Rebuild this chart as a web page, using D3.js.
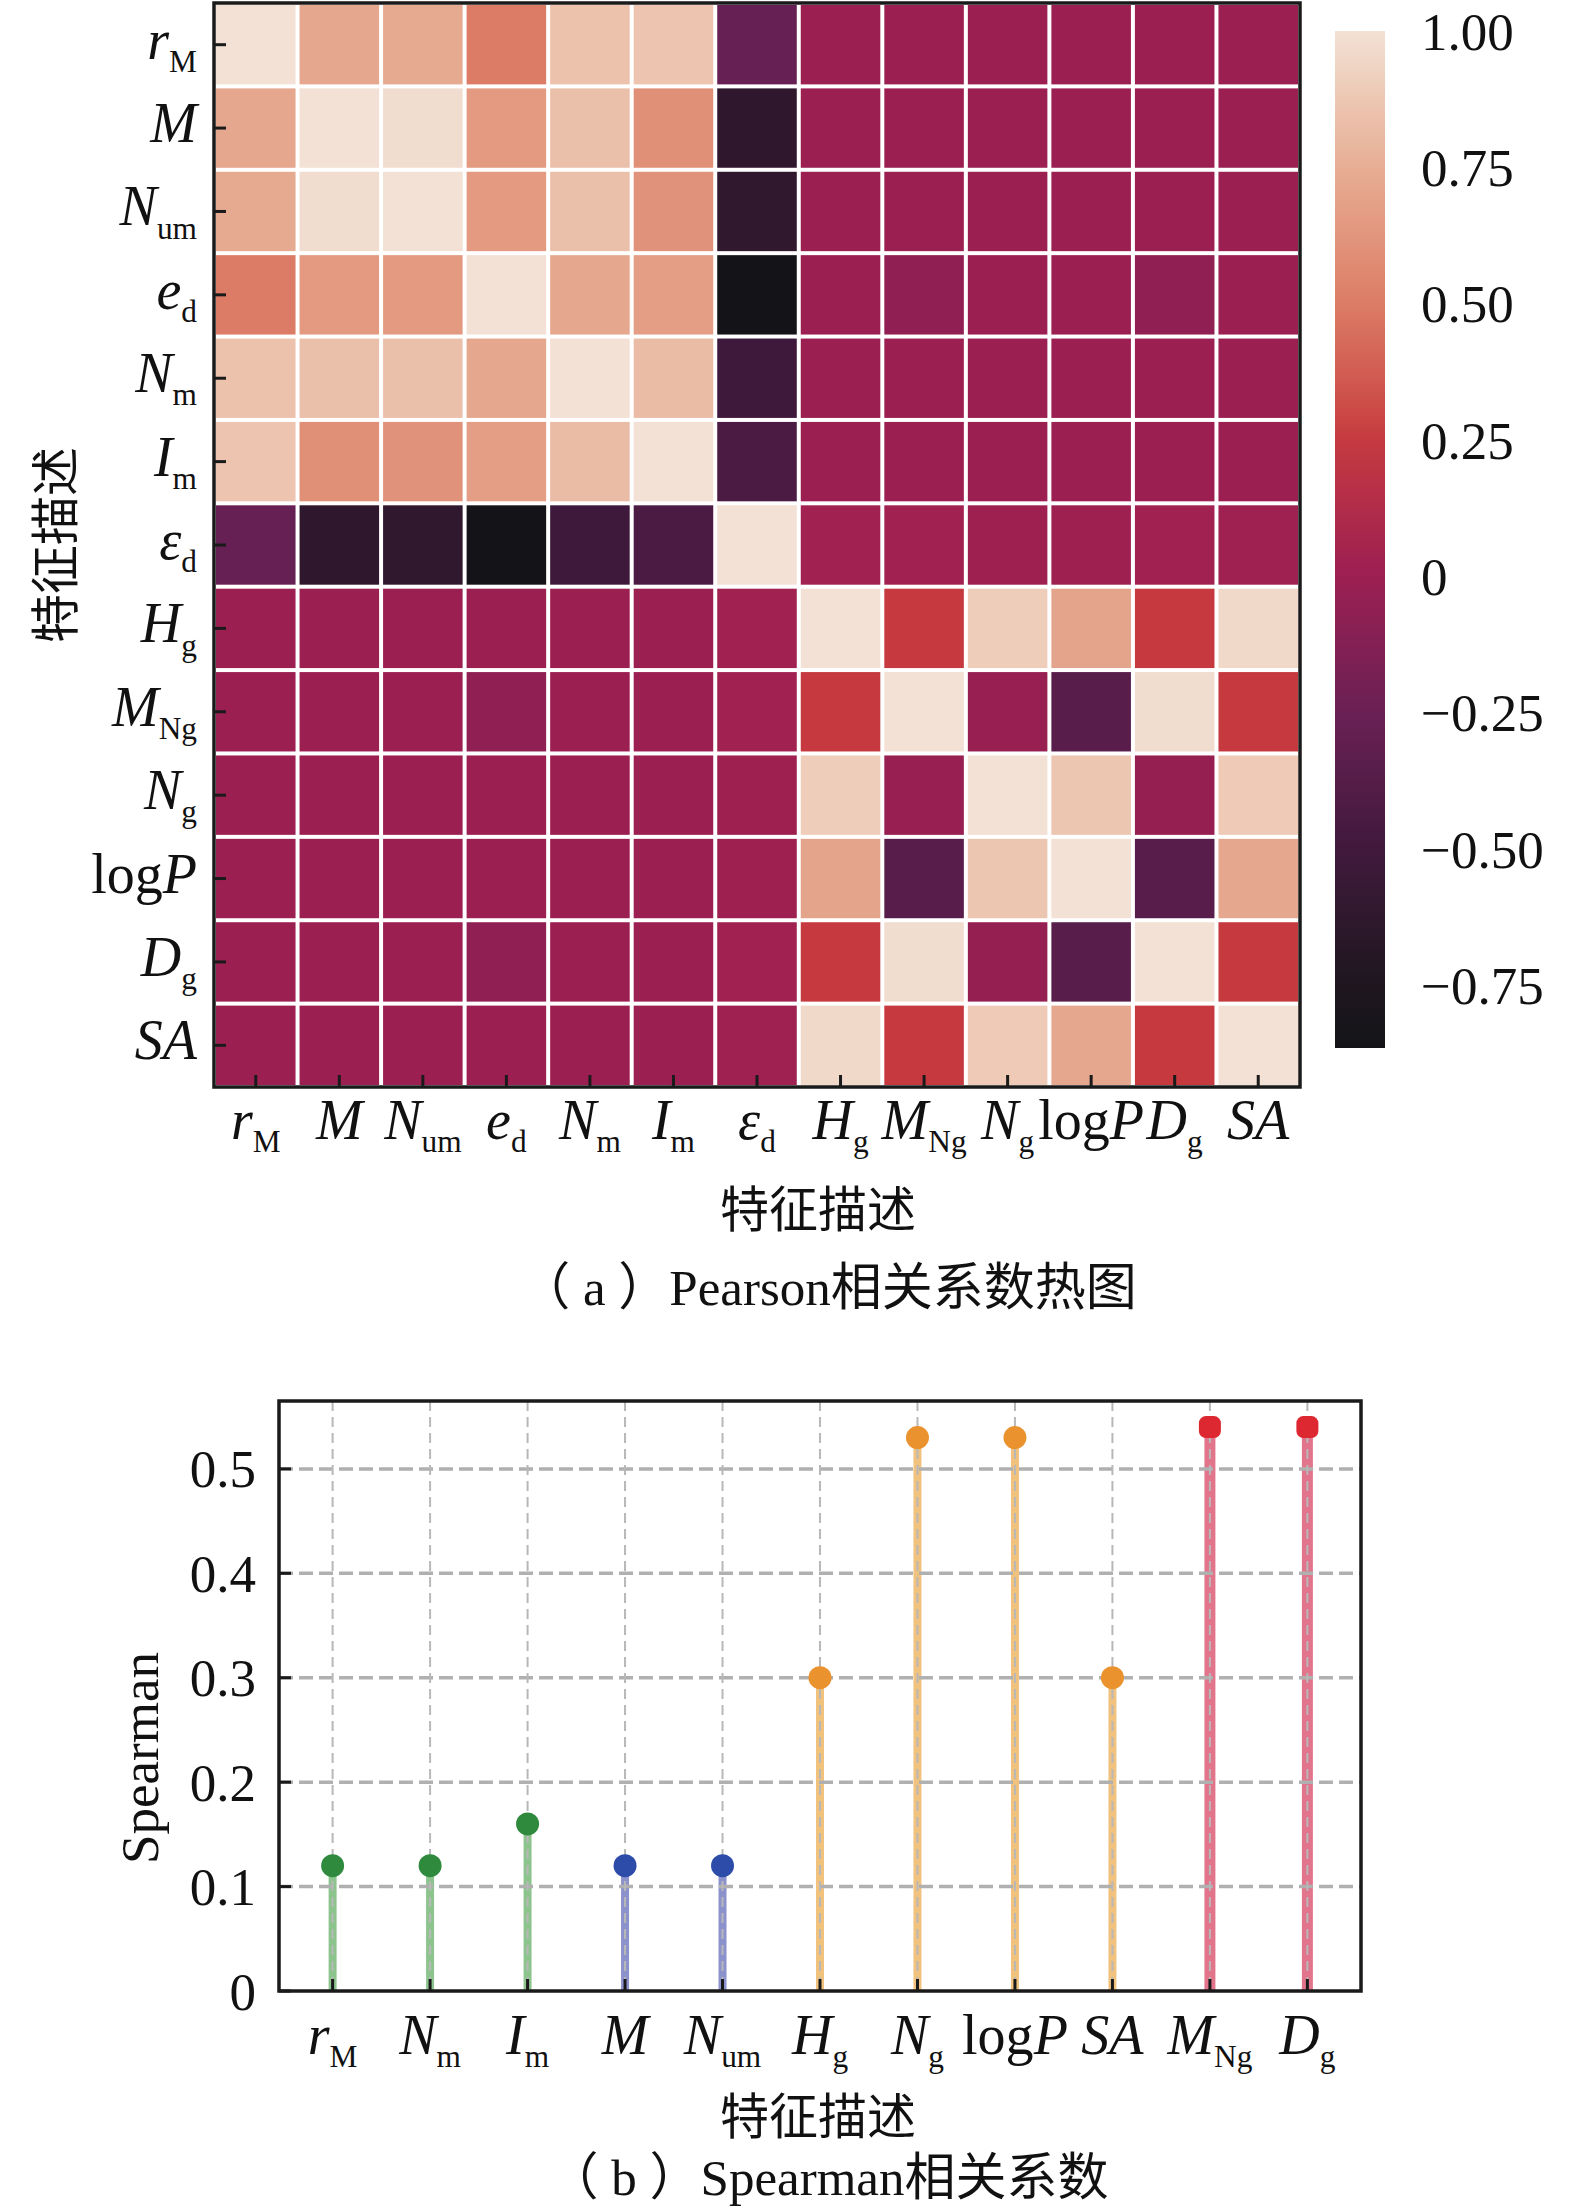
<!DOCTYPE html>
<html>
<head>
<meta charset="utf-8">
<script src="https://cdn.jsdelivr.net/npm/d3@7"></script>
<style>
  body { margin: 0; background: #fff; }
  text { font-family: "Liberation Serif", "Noto Sans CJK SC", serif; fill: #111; }
  .cjk { font-family: "Liberation Serif", "Noto Sans CJK SC", sans-serif; }
</style>
</head>
<body>
<div id="chart"></div>
<script>
// heatmap features (row / column order)
var heatFeatures = ["rM", "M", "Num", "ed", "Nm", "Im", "epsd", "Hg", "MNg", "Ng", "logP", "Dg", "SA"];

// Pearson correlation matrix
var pearson = [
  [ 1.00,  0.72,  0.73,  0.50,  0.85,  0.86, -0.27,  0.00,  0.00,  0.00,  0.00,  0.00,  0.00],
  [ 0.72,  1.00,  0.98,  0.65,  0.84,  0.60, -0.63,  0.00,  0.00,  0.00,  0.00,  0.00,  0.00],
  [ 0.73,  0.98,  1.00,  0.65,  0.84,  0.61, -0.62,  0.00,  0.00,  0.00,  0.00,  0.00,  0.00],
  [ 0.50,  0.65,  0.65,  1.00,  0.72,  0.67, -0.86,  0.00, -0.06,  0.00,  0.00, -0.06,  0.00],
  [ 0.85,  0.84,  0.84,  0.72,  1.00,  0.82, -0.52,  0.00,  0.00,  0.00,  0.00,  0.00,  0.00],
  [ 0.86,  0.60,  0.61,  0.67,  0.82,  1.00, -0.43,  0.00,  0.00,  0.00,  0.00,  0.00,  0.00],
  [-0.27, -0.63, -0.62, -0.86, -0.52, -0.43,  1.00,  0.03,  0.03,  0.01,  0.01,  0.03,  0.02],
  [ 0.00,  0.00,  0.00,  0.00,  0.00,  0.00,  0.03,  1.00,  0.25,  0.90,  0.70,  0.25,  0.96],
  [ 0.00,  0.00,  0.00, -0.06,  0.00,  0.00,  0.03,  0.25,  1.00, -0.02, -0.36,  0.98,  0.25],
  [ 0.00,  0.00,  0.00,  0.00,  0.00,  0.00,  0.01,  0.90, -0.02,  1.00,  0.87, -0.03,  0.89],
  [ 0.00,  0.00,  0.00,  0.00,  0.00,  0.00,  0.01,  0.70, -0.36,  0.87,  1.00, -0.36,  0.72],
  [ 0.00,  0.00,  0.00, -0.06,  0.00,  0.00,  0.03,  0.25,  0.98, -0.03, -0.36,  1.00,  0.25],
  [ 0.00,  0.00,  0.00,  0.00,  0.00,  0.00,  0.02,  0.96,  0.25,  0.89,  0.72,  0.25,  1.00]
];

// colour bar
var cbarTicks = [1, 0.75, 0.5, 0.25, 0, -0.25, -0.5, -0.75];
var cbarTickLabels = ["1.00", "0.75", "0.50", "0.25", "0", "\u22120.25", "\u22120.50", "\u22120.75"];
var cbarMin = -0.865, cbarMax = 1.0;

// Spearman stem chart
var spearFeatures = ["rM", "Nm", "Im", "M", "Num", "Hg", "Ng", "logP", "SA", "MNg", "Dg"];
var spearValues = [0.12, 0.12, 0.16, 0.12, 0.12, 0.30, 0.53, 0.53, 0.30, 0.54, 0.54];
var spearGroups = [0, 0, 0, 1, 1, 2, 2, 2, 2, 3, 3];
var spearTicks = [0, 0.1, 0.2, 0.3, 0.4, 0.5];
var spearTickLabels = ["0", "0.1", "0.2", "0.3", "0.4", "0.5"];

// styling
var stemColors = ["#8dc48e", "#8b92cc", "#f1c27e", "#e2758b"];
var dotColors = ["#2f8a3e", "#2d4ba9", "#ea922e", "#dd2832"];

var labelParts = {
  rM: [["r", "i"], ["M", "s"]],
  M: [["M", "i"]],
  Num: [["N", "i"], ["um", "s"]],
  ed: [["e", "i"], ["d", "s"]],
  Nm: [["N", "i"], ["m", "s"]],
  Im: [["I", "i"], ["m", "s"]],
  epsd: [["\u03b5", "i"], ["d", "s"]],
  Hg: [["H", "i"], ["g", "s"]],
  MNg: [["M", "i"], ["Ng", "s"]],
  Ng: [["N", "i"], ["g", "s"]],
  logP: [["log", "n"], ["P", "i"]],
  Dg: [["D", "i"], ["g", "s"]],
  SA: [["SA", "i"]]
};

function writeLabel(sel, key) {
  labelParts[key].forEach(function(p) {
    var ts = sel.append("tspan").text(p[0]);
    if (p[1] === "i") ts.attr("font-style", "italic");
    if (p[1] === "s") ts.attr("font-size", "0.56em").attr("dy", "0.42em");
  });
}

var svgWidth = 1575, svgHeight = 2210;
var svg = d3.select("#chart").append("svg")
  .attr("width", svgWidth)
  .attr("height", svgHeight);

// ---------------- (a) heatmap ----------------
var hm = { left: 214, right: 1300, top: 3, bottom: 1087 };

var xBand = d3.scaleBand().domain(heatFeatures).range([hm.left, hm.right]);
var yBand = d3.scaleBand().domain(heatFeatures).range([hm.top, hm.bottom]);

var color = d3.scaleLinear()
  .domain([cbarMin, -0.75, -0.5, -0.25, 0, 0.25, 0.5, 0.75, 1.0])
  .range(["#141418", "#1e161f", "#41193d", "#6a2055", "#9c1f52", "#c6393f", "#dc7c66", "#e6ae94", "#f2e1d4"])
  .interpolate(d3.interpolateLab)
  .clamp(true);

var cells = [];
pearson.forEach(function(row, i) {
  row.forEach(function(v, j) {
    cells.push({ row: heatFeatures[i], col: heatFeatures[j], value: v });
  });
});

svg.append("g").selectAll("rect")
  .data(cells)
  .enter()
  .append("rect")
  .attr("x", d => xBand(d.col) + 2)
  .attr("y", d => yBand(d.row) + 2)
  .attr("width", xBand.bandwidth() - 4)
  .attr("height", yBand.bandwidth() - 4)
  .attr("fill", d => color(d.value));

svg.append("rect")
  .attr("x", hm.left).attr("y", hm.top)
  .attr("width", hm.right - hm.left).attr("height", hm.bottom - hm.top)
  .attr("fill", "none").attr("stroke", "#1a1a1a").attr("stroke-width", 3.5);

// ticks pointing inward
svg.append("g").selectAll("line")
  .data(heatFeatures)
  .enter().append("line")
  .attr("x1", hm.left).attr("x2", hm.left + 12)
  .attr("y1", d => yBand(d) + yBand.bandwidth() / 2)
  .attr("y2", d => yBand(d) + yBand.bandwidth() / 2)
  .attr("stroke", "#1a1a1a").attr("stroke-width", 3);

svg.append("g").selectAll("line")
  .data(heatFeatures)
  .enter().append("line")
  .attr("y1", hm.bottom).attr("y2", hm.bottom - 12)
  .attr("x1", d => xBand(d) + xBand.bandwidth() / 2)
  .attr("x2", d => xBand(d) + xBand.bandwidth() / 2)
  .attr("stroke", "#1a1a1a").attr("stroke-width", 3);

svg.append("g").selectAll("text")
  .data(heatFeatures)
  .enter().append("text")
  .attr("x", 197)
  .attr("y", d => yBand(d) + yBand.bandwidth() / 2 + 14)
  .attr("text-anchor", "end")
  .attr("font-size", 56)
  .each(function(d) { writeLabel(d3.select(this), d); });

svg.append("g").selectAll("text")
  .data(heatFeatures)
  .enter().append("text")
  .attr("x", d => xBand(d) + xBand.bandwidth() / 2)
  .attr("y", 1139)
  .attr("text-anchor", "middle")
  .attr("font-size", 56)
  .each(function(d) { writeLabel(d3.select(this), d); });

svg.append("text")
  .attr("class", "cjk")
  .attr("transform", "translate(56, 545) rotate(-90)")
  .attr("text-anchor", "middle")
  .attr("dominant-baseline", "central")
  .attr("font-size", 49)
  .text("特征描述");

svg.append("text")
  .attr("class", "cjk")
  .attr("x", 818).attr("y", 1210)
  .attr("text-anchor", "middle")
  .attr("dominant-baseline", "central")
  .attr("font-size", 49)
  .text("特征描述");

svg.append("text")
  .attr("class", "cjk")
  .attr("x", 828).attr("y", 1288)
  .attr("text-anchor", "middle")
  .attr("dominant-baseline", "central")
  .attr("font-size", 51)
  .text("（ a ）Pearson相关系数热图");

// colour bar
var cbar = { left: 1335, width: 50, top: 31, bottom: 1048 };
var cbarScale = d3.scaleLinear().domain([cbarMin, cbarMax]).range([cbar.bottom, cbar.top]);

var grad = svg.append("defs").append("linearGradient")
  .attr("id", "cbarGrad")
  .attr("x1", 0).attr("y1", 1).attr("x2", 0).attr("y2", 0);
d3.range(0, 1.0001, 0.02).forEach(function(t) {
  grad.append("stop")
    .attr("offset", t)
    .attr("stop-color", color(cbarMin + t * (cbarMax - cbarMin)));
});

svg.append("rect")
  .attr("x", cbar.left).attr("y", cbar.top)
  .attr("width", cbar.width).attr("height", cbar.bottom - cbar.top)
  .attr("fill", "url(#cbarGrad)");

svg.append("g").selectAll("text")
  .data(cbarTicks)
  .enter().append("text")
  .attr("x", 1421)
  .attr("y", d => cbarScale(d))
  .attr("dy", "0.35em")
  .attr("font-size", 53)
  .text((d, i) => cbarTickLabels[i]);

// ---------------- (b) Spearman stems ----------------
var sp = { left: 279, right: 1361, top: 1401, bottom: 1991 };

var xLinear = d3.scaleLinear().domain([-0.55, spearFeatures.length - 1 + 0.55]).range([sp.left, sp.right]);
var yLinear = d3.scaleLinear().domain([0, 0.565]).range([sp.bottom, sp.top]);

var spData = spearFeatures.map(function(f, i) {
  return { key: f, i: i, value: spearValues[i], group: spearGroups[i] };
});

// stems
svg.append("g").selectAll("line")
  .data(spData)
  .enter().append("line")
  .attr("x1", d => xLinear(d.i)).attr("x2", d => xLinear(d.i))
  .attr("y1", yLinear(0)).attr("y2", d => yLinear(d.value))
  .attr("stroke", d => stemColors[d.group])
  .attr("stroke-width", d => d.group === 3 ? 11 : 8);

// grid
svg.append("g").selectAll("line")
  .data(spearTicks.slice(1))
  .enter().append("line")
  .attr("x1", sp.left).attr("x2", sp.right)
  .attr("y1", d => yLinear(d)).attr("y2", d => yLinear(d))
  .attr("stroke", "#b0b0b0").attr("stroke-width", 3.5)
  .attr("stroke-dasharray", "14,6");

svg.append("g").selectAll("line")
  .data(spData)
  .enter().append("line")
  .attr("x1", d => xLinear(d.i)).attr("x2", d => xLinear(d.i))
  .attr("y1", sp.top).attr("y2", sp.bottom)
  .attr("stroke", "#b8b8b8").attr("stroke-width", 2)
  .attr("stroke-dasharray", "10,6");

// markers
svg.append("g").selectAll("circle")
  .data(spData.filter(d => d.group !== 3))
  .enter().append("circle")
  .attr("cx", d => xLinear(d.i))
  .attr("cy", d => yLinear(d.value))
  .attr("r", 11.5)
  .attr("fill", d => dotColors[d.group]);

svg.append("g").selectAll("rect")
  .data(spData.filter(d => d.group === 3))
  .enter().append("rect")
  .attr("x", d => xLinear(d.i) - 11)
  .attr("y", d => yLinear(d.value) - 11)
  .attr("width", 22).attr("height", 22)
  .attr("rx", 7)
  .attr("fill", d => dotColors[d.group]);

svg.append("rect")
  .attr("x", sp.left).attr("y", sp.top)
  .attr("width", sp.right - sp.left).attr("height", sp.bottom - sp.top)
  .attr("fill", "none").attr("stroke", "#1a1a1a").attr("stroke-width", 3.5);

svg.append("g").selectAll("line")
  .data(spearTicks)
  .enter().append("line")
  .attr("x1", sp.left).attr("x2", sp.left + 12)
  .attr("y1", d => yLinear(d)).attr("y2", d => yLinear(d))
  .attr("stroke", "#1a1a1a").attr("stroke-width", 3);

svg.append("g").selectAll("line")
  .data(spData)
  .enter().append("line")
  .attr("x1", d => xLinear(d.i)).attr("x2", d => xLinear(d.i))
  .attr("y1", sp.bottom).attr("y2", sp.bottom - 12)
  .attr("stroke", "#1a1a1a").attr("stroke-width", 3);

svg.append("g").selectAll("text")
  .data(spearTicks)
  .enter().append("text")
  .attr("x", 256)
  .attr("y", d => yLinear(d))
  .attr("dy", "0.35em")
  .attr("text-anchor", "end")
  .attr("font-size", 53)
  .text((d, i) => spearTickLabels[i]);

svg.append("g").selectAll("text")
  .data(spData)
  .enter().append("text")
  .attr("x", d => xLinear(d.i))
  .attr("y", 2054)
  .attr("text-anchor", "middle")
  .attr("font-size", 56)
  .each(function(d) { writeLabel(d3.select(this), d.key); });

svg.append("text")
  .attr("transform", "translate(158, 1758) rotate(-90)")
  .attr("text-anchor", "middle")
  .attr("font-size", 53)
  .text("Spearman");

svg.append("text")
  .attr("class", "cjk")
  .attr("x", 818).attr("y", 2117)
  .attr("text-anchor", "middle")
  .attr("dominant-baseline", "central")
  .attr("font-size", 49)
  .text("特征描述");

svg.append("text")
  .attr("class", "cjk")
  .attr("x", 828).attr("y", 2178)
  .attr("text-anchor", "middle")
  .attr("dominant-baseline", "central")
  .attr("font-size", 51)
  .text("（ b ）Spearman相关系数");
</script>
</body>
</html>
